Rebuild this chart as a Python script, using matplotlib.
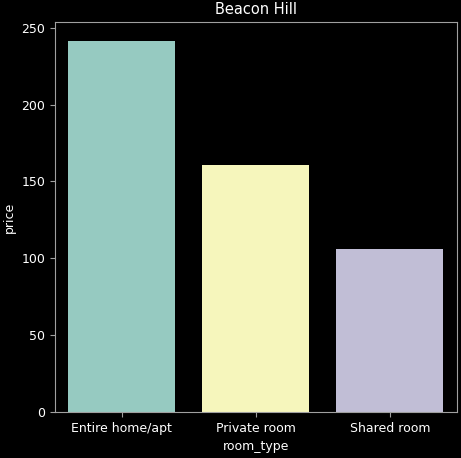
import matplotlib
matplotlib.use("Agg")
import matplotlib.pyplot as plt
import seaborn as sns

# average price per room type in Beacon Hill
room_types = ["Entire home/apt", "Private room", "Shared room"]
prices = [241.6, 160.8, 106.1]
bar_colors = ["#8dd3c7", "#ffffb3", "#bebada"]

plt.style.use("dark_background")
fig = plt.figure(figsize=(4.61, 4.58), dpi=100)
ax = fig.add_axes([0.119, 0.100, 0.872, 0.852])

pal = [sns.desaturate(c, 0.75) for c in bar_colors]
ax.bar(range(len(room_types)), prices, width=0.8, color=pal)
ax.set_xlim(-0.5, 2.5)
ax.set_ylim(0, max(prices) * 1.05)
ax.set_xticks(range(len(room_types)))
ax.set_xticklabels(room_types)

for s in ax.spines.values():
    s.set_color("#a0a0a0")
ax.tick_params(colors="#a0a0a0", labelcolor="white", labelsize=9)
ax.set_xlabel("room_type", fontsize=9)
ax.set_ylabel("price", fontsize=9)
ax.set_title("Beacon Hill", fontsize=10.5)

fig.savefig("out.png", dpi=100)
